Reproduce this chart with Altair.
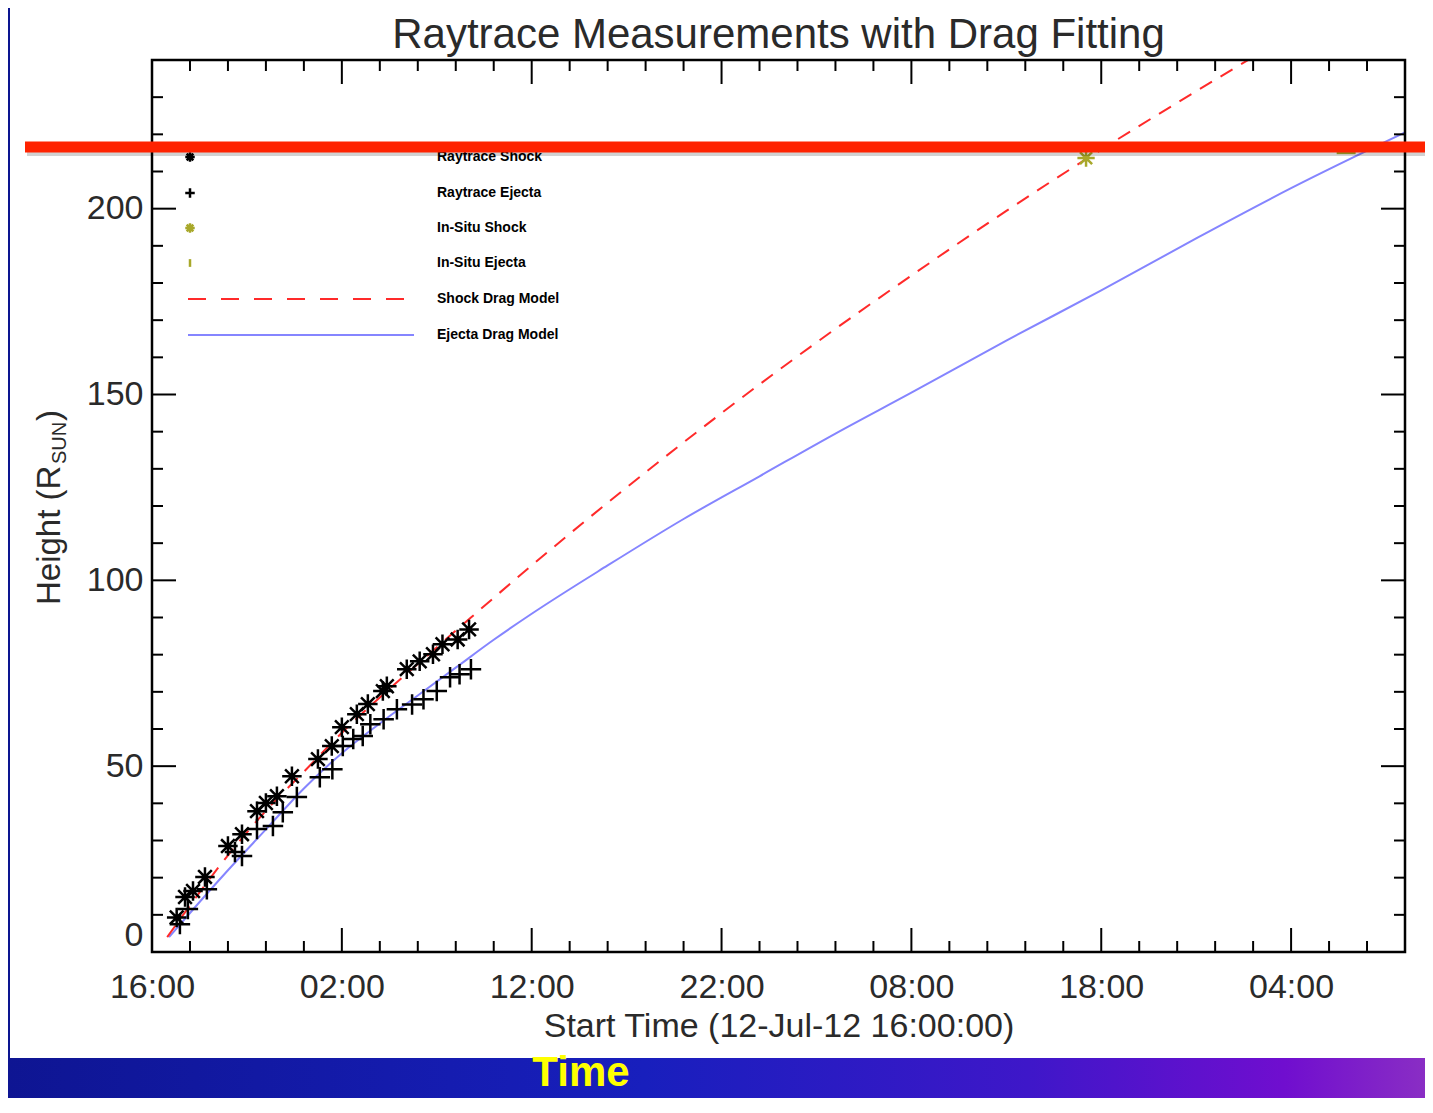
import altair as alt
import pandas as pd

# ---------------- data ----------------
# time in hours since 12-Jul-12 16:00, height in solar radii
shock_t = [1.30, 1.74, 2.16, 2.79, 4.00, 4.74, 5.53, 6.00, 6.58, 7.37, 8.74, 9.47, 10.0,
           10.79, 11.37, 12.16, 12.37, 13.42, 14.1, 14.8, 15.3, 16.1, 16.7]
shock_h = [9.3, 14.8, 16.4, 20.2, 28.5, 31.7, 37.9, 40.1, 41.9, 47.3, 51.9, 55.4, 60.5,
           64.0, 66.7, 70.2, 71.5, 76.1, 78.2, 80.1, 82.8, 84.1, 86.8]

ejecta_t = [1.47, 1.89, 2.89, 4.37, 4.74, 5.53, 6.37, 6.89, 7.63, 8.84, 9.5, 10.05, 10.6,
            11.1, 11.5, 12.2, 12.9, 13.7, 14.3, 15.0, 15.7, 16.2, 16.8]
ejecta_h = [7.5, 11.6, 16.9, 26.9, 25.8, 33.1, 33.9, 37.6, 41.7, 47.0, 49.2, 55.4, 57.3,
            58.1, 61.3, 62.6, 65.3, 66.6, 68.0, 70.2, 73.9, 74.7, 76.1]

insitu_shock_t = [49.2]
insitu_shock_h = [213.6]
insitu_ejecta_t = [62.9]
insitu_ejecta_h = [215.0]

shock_model_t = [0.8, 1.6, 2, 4, 6, 8, 10, 12, 14, 16.8, 20, 25, 30, 35, 40, 45, 50, 55, 58]
shock_model_h = [4, 9.7, 12.5, 26, 38, 48.5, 59, 68.5, 77.5, 90, 104, 125, 145, 164, 182,
                 199.4, 215.9, 231.6, 240.8]

ejecta_model_t = [0.9, 2, 4, 6, 8, 10, 12, 14, 16, 18, 20, 24, 28, 32, 36, 40, 45, 50, 55, 60, 66]
ejecta_model_h = [4, 10.5, 22, 33, 44, 53.5, 61.5, 69, 76.5, 84, 91, 104, 116.5, 128,
                  139.5, 150.5, 164.5, 178, 192, 205.5, 220.5]

x_tick_values = [0, 10, 20, 30, 40, 50, 60]
x_tick_labels = ["16:00", "02:00", "12:00", "22:00", "08:00", "18:00", "04:00"]
x_minor = [v for v in range(2, 66, 2) if v % 10 != 0]
y_tick_values = [0, 50, 100, 150, 200]
y_minor = [v for v in range(10, 240, 10) if v % 50 != 0]

legend_labels = ["Raytrace Shock", "Raytrace Ejecta", "In-Situ Shock", "In-Situ Ejecta",
                 "Shock Drag Model", "Ejecta Drag Model"]

# ---------------- layout ----------------
W, H = 1253, 892
FONT = "Liberation Sans"
INK = "#2a2a2a"

xs = alt.Scale(domain=[0, 66], nice=False, zero=False)
ys = alt.Scale(domain=[0, 240], nice=False, zero=False)

label_expr = " : ".join(f"datum.value == {v} ? '{l}'" for v, l in zip(x_tick_values, x_tick_labels)) + " : ''"

XAXIS = alt.Axis(values=x_tick_values, labelExpr=label_expr, ticks=False, tickSize=0,
                 domain=False, grid=False, labelFontSize=34, labelFont=FONT, labelColor=INK,
                 labelPadding=18, labelFlush=False, labelOverlap=False,
                 title="Start Time (12-Jul-12 16:00:00)", titleFont=FONT,
                 titleFontSize=34, titleFontWeight="normal", titleColor=INK, titlePadding=5,
                 zindex=2)
YAXIS = alt.Axis(values=y_tick_values, ticks=False, tickSize=0, domain=False, grid=False,
                 labelFontSize=34, labelFont=FONT, labelColor=INK, labelPadding=9,
                 labelFlush=True, title=None, zindex=2)


def X(f="t"):
    return alt.X(f"{f}:Q", scale=xs, axis=XAXIS)


def Y(f="h"):
    return alt.Y(f"{f}:Q", scale=ys, axis=YAXIS)


one = pd.DataFrame({"k": [0]})
layers = []

# white panel and bottom band
layers.append(alt.Chart(one).mark_rect(color="white").encode(
    x=alt.value(-142), x2=alt.value(1300), y=alt.value(-60), y2=alt.value(998)))
grad = {"gradient": "linear", "x1": 0, "x2": 1, "y1": 0, "y2": 0,
        "stops": [{"offset": 0, "color": "#0e1592"}, {"offset": 0.45, "color": "#181fbd"},
                  {"offset": 0.72, "color": "#3e17c9"}, {"offset": 0.9, "color": "#700ecf"},
                  {"offset": 1, "color": "#8a2ec4"}]}
layers.append(alt.Chart(one).mark_rect(fill=grad).encode(
    x=alt.value(-150), x2=alt.value(1275), y=alt.value(998), y2=alt.value(1060)))
layers.append(alt.Chart(one).mark_text(text="Time", font="Liberation Sans Narrow, Liberation Sans",
                                       fontSize=42, fontWeight="bold", color="#ffff00",
                                       align="center", baseline="bottom").encode(
    x=alt.value(429), y=alt.value(1035)))

# chart title
layers.append(alt.Chart(one).mark_text(text="Raytrace Measurements with Drag Fitting", font=FONT,
                                       fontSize=42, color=INK, align="center",
                                       baseline="alphabetic").encode(
    x=alt.value(W / 2), y=alt.value(-12)))

# model curves
red_df = pd.DataFrame({"t": shock_model_t, "h": shock_model_h})
blue_df = pd.DataFrame({"t": ejecta_model_t, "h": ejecta_model_h})
layers.append(alt.Chart(blue_df).mark_line(color="#8585ff", strokeWidth=2, clip=True,
                                           interpolate="monotone").encode(x=X(), y=Y()))
layers.append(alt.Chart(red_df).mark_line(color="#ff2a2a", strokeWidth=2, strokeDash=[14, 10],
                                          clip=True, interpolate="monotone").encode(x=X(), y=Y()))

AST = "M-1,0L1,0M0,-1L0,1M-0.7,-0.7L0.7,0.7M-0.7,0.7L0.7,-0.7"
PLUS = "M-1,0L1,0M0,-1L0,1"
DASH = "M-1,0L1,0"
VBAR = "M0,-1L0,1"
OLIVE = "#a8a82a"

layers.append(alt.Chart(pd.DataFrame({"t": ejecta_t, "h": ejecta_h})).mark_point(
    shape=PLUS, size=420, filled=False, color="black", strokeWidth=2.5, opacity=1).encode(x=X(), y=Y()))
layers.append(alt.Chart(pd.DataFrame({"t": shock_t, "h": shock_h})).mark_point(
    shape=AST, size=380, filled=False, color="black", strokeWidth=2.5, opacity=1).encode(x=X(), y=Y()))
layers.append(alt.Chart(pd.DataFrame({"t": insitu_shock_t, "h": insitu_shock_h})).mark_point(
    shape=AST, size=300, filled=False, color=OLIVE, strokeWidth=2.5, opacity=1).encode(x=X(), y=Y()))
layers.append(alt.Chart(pd.DataFrame({"t": insitu_ejecta_t, "h": insitu_ejecta_h})).mark_point(
    shape=DASH, size=360, filled=False, color=OLIVE, strokeWidth=2.5, opacity=1).encode(x=X(), y=Y()))

# inward ticks (IDL style)
xM = pd.DataFrame({"t": x_tick_values})
xm = pd.DataFrame({"t": x_minor})
yM = pd.DataFrame({"h": y_tick_values})
ym = pd.DataFrame({"h": y_minor})
for df, ln in ((xM, 24), (xm, 11)):
    layers.append(alt.Chart(df).mark_rule(color="black", strokeWidth=2).encode(
        x=X(), y=alt.value(H), y2=alt.value(H - ln)))
    layers.append(alt.Chart(df).mark_rule(color="black", strokeWidth=2).encode(
        x=X(), y=alt.value(0), y2=alt.value(ln)))
for df, ln in ((yM, 24), (ym, 11)):
    layers.append(alt.Chart(df).mark_rule(color="black", strokeWidth=2).encode(
        y=Y(), x=alt.value(0), x2=alt.value(ln)))
    layers.append(alt.Chart(df).mark_rule(color="black", strokeWidth=2).encode(
        y=Y(), x=alt.value(W), x2=alt.value(W - ln)))

# frame
layers.append(alt.Chart(one).mark_rect(fillOpacity=0, stroke="black", strokeWidth=2.5).encode(
    x=alt.value(0), x2=alt.value(W), y=alt.value(0), y2=alt.value(H)))

# legend (IDL style, inside the plot)
leg_y = [97, 133, 168, 203, 239, 275]
for lab, yy in zip(legend_labels, leg_y):
    layers.append(alt.Chart(one).mark_text(text=lab, font=FONT, fontSize=14, fontWeight="bold",
                                           color="black", align="left", baseline="middle").encode(
        x=alt.value(285), y=alt.value(yy)))
leg_sym = [(AST, "black", 90), (PLUS, "black", 90), (AST, OLIVE, 90), (VBAR, OLIVE, 60)]
for (shp, col, sz), yy in zip(leg_sym, leg_y[:4]):
    layers.append(alt.Chart(one).mark_point(shape=shp, size=sz, filled=False, color=col,
                                            strokeWidth=2.5, opacity=1).encode(
        x=alt.value(38), y=alt.value(yy)))
layers.append(alt.Chart(one).mark_rule(color="#ff2a2a", strokeWidth=2, strokeDash=[18, 15]).encode(
    x=alt.value(36), x2=alt.value(260), y=alt.value(leg_y[4])))
layers.append(alt.Chart(one).mark_rule(color="#8585ff", strokeWidth=2).encode(
    x=alt.value(36), x2=alt.value(262), y=alt.value(leg_y[5])))

# y-axis title with subscript
layers.append(alt.Chart(one).mark_text(text="Height (R", font=FONT, fontSize=33, color=INK, angle=270,
                                       align="left", baseline="middle").encode(
    x=alt.value(-102), y=alt.value(545)))
layers.append(alt.Chart(one).mark_text(text="SUN", font=FONT, fontSize=20, color=INK, angle=270,
                                       align="left", baseline="middle").encode(
    x=alt.value(-92), y=alt.value(404)))
layers.append(alt.Chart(one).mark_text(text=")", font=FONT, fontSize=33, color=INK, angle=270,
                                       align="left", baseline="middle").encode(
    x=alt.value(-102), y=alt.value(361)))

# red annotation bar across the slide
layers.append(alt.Chart(one).mark_rule(color="#000000", opacity=0.18, strokeWidth=8).encode(
    x=alt.value(-125), x2=alt.value(1290), y=alt.value(92)))
layers.append(alt.Chart(one).mark_rule(color="#ff2200", strokeWidth=11).encode(
    x=alt.value(-127), x2=alt.value(1290), y=alt.value(87)))

chart = alt.layer(*layers).properties(
    width=W, height=H,
    autosize=alt.AutoSizeParams(type="none"),
    padding={"left": 144, "top": 52, "right": 20, "bottom": 146},
).configure(background="#0c1590").configure_view(strokeWidth=0)

chart.save("out.html", embed_options={"renderer": "svg", "actions": False})
